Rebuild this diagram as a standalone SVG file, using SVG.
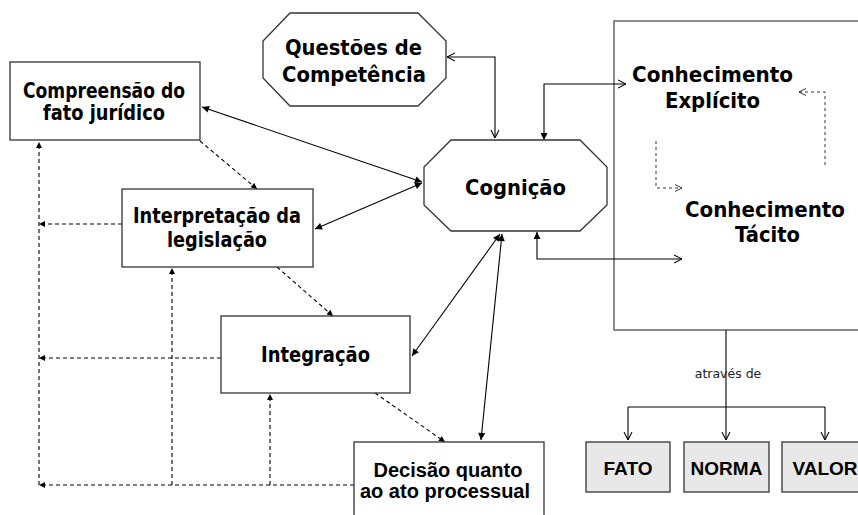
<svg xmlns="http://www.w3.org/2000/svg" width="858" height="515" viewBox="0 0 858 515">
<defs>
<style>
.box{fill:#fff;stroke:#333;stroke-width:1.3}
.gbox{fill:#e8e8e8;stroke:#333;stroke-width:1.3}
.big{fill:#fff;stroke:#666;stroke-width:1.5}
.t{font-family:"DejaVu Sans",Verdana,sans-serif;font-weight:bold;fill:#000;text-anchor:middle}
.a{font-family:"Liberation Sans",Arial,sans-serif;font-weight:bold;fill:#000;text-anchor:middle}
.s{fill:none;stroke:#000;stroke-width:1.1}
.d{fill:none;stroke:#000;stroke-width:1.1;stroke-dasharray:4,3}
.dt{fill:none;stroke:#222;stroke-width:0.9;stroke-dasharray:3,3}
.f{marker-start:url(#fa);marker-end:url(#fa)}
</style>
<marker id="fa" viewBox="0 0 10 10" refX="10" refY="5" markerUnits="userSpaceOnUse" markerWidth="8" markerHeight="7" orient="auto-start-reverse"><path d="M0,0 L10,5 L0,10 z" fill="#000"/></marker>
<marker id="fd" viewBox="0 0 10 10" refX="10" refY="5" markerUnits="userSpaceOnUse" markerWidth="7" markerHeight="6" orient="auto-start-reverse"><path d="M0,0 L10,5 L0,10 z" fill="#000"/></marker>
<marker id="oa" viewBox="0 0 10 10" refX="10" refY="5" markerUnits="userSpaceOnUse" markerWidth="8" markerHeight="10" orient="auto-start-reverse"><path d="M0,0 L10,5 L0,10" fill="none" stroke="#000" stroke-width="1.3"/></marker>
<marker id="os" viewBox="0 0 10 10" refX="10" refY="5" markerUnits="userSpaceOnUse" markerWidth="7" markerHeight="8" orient="auto-start-reverse"><path d="M0,0 L10,5 L0,10" fill="none" stroke="#222" stroke-width="1.3"/></marker>
</defs>
<rect width="858" height="515" fill="#fff"/>

<g id="conhecimento-box">
<rect class="big" x="614" y="21" width="260" height="309"/>
</g>

<g id="connectors">
<path class="s f" d="M202,107 L422,182"/>
<path class="s f" d="M315,229 L422,183"/>
<path class="s f" d="M412,356 L500,234"/>
<path class="s f" d="M481,440 L502,234"/>
<path class="s" d="M447,57 L495,57 L495,138" marker-start="url(#oa)" marker-end="url(#oa)"/>
<path class="s" d="M544,140 L544,84 L626,84" marker-start="url(#fa)" marker-end="url(#oa)"/>
<path class="s" d="M537,232 L537,259 L682,259" marker-start="url(#fa)" marker-end="url(#oa)"/>
<path class="s" d="M726,330 L726,407 M628,407 L825,407"/>
<path class="s" d="M628,407 L628,440" marker-end="url(#oa)"/>
<path class="s" d="M726,407 L726,440" marker-end="url(#oa)"/>
<path class="s" d="M825,407 L825,440" marker-end="url(#oa)"/>
<path class="d" d="M200,141 L257,189" marker-end="url(#fd)"/>
<path class="d" d="M277,267 L333,316" marker-end="url(#fd)"/>
<path class="d" d="M375,393 L445,442" marker-end="url(#fd)"/>
<path class="d" d="M354,485 L39,485" marker-end="url(#fd)"/>
<path class="d" d="M39,485 L39,142" marker-end="url(#fd)"/>
<path class="d" d="M122,224 L39,224" marker-end="url(#fd)"/>
<path class="d" d="M221,358 L39,358" marker-end="url(#fd)"/>
<path class="d" d="M172,485 L172,268" marker-end="url(#fd)"/>
<path class="d" d="M270,485 L270,394" marker-end="url(#fd)"/>
<path class="dt" d="M825,165 L825,92 L799,92" marker-end="url(#os)"/>
<path class="dt" d="M656,141 L656,188 L682,188" marker-end="url(#os)"/>
</g>

<g id="compreensao">
<rect class="box" x="10" y="62" width="190" height="78"/>
<text class="t" x="104" y="98" font-size="20.5" textLength="162" lengthAdjust="spacingAndGlyphs">Compreensão do</text>
<text class="t" x="104" y="120" font-size="20.5" textLength="122" lengthAdjust="spacingAndGlyphs">fato jurídico</text>
</g>

<g id="questoes">
<polygon class="box" points="290,13 418,13 446,41 446,78 418,106 290,106 263,78 263,41"/>
<text class="t" x="353.5" y="55" font-size="21.5" textLength="137" lengthAdjust="spacingAndGlyphs">Questões de</text>
<text class="t" x="354" y="82" font-size="21.5" textLength="144" lengthAdjust="spacingAndGlyphs">Competência</text>
</g>

<g id="cognicao">
<polygon class="box" points="451,140 580,140 607,167 607,205 580,231 451,231 424,205 424,167"/>
<text class="t" x="515.5" y="195" font-size="22" textLength="101" lengthAdjust="spacingAndGlyphs">Cognição</text>
</g>

<g id="interpretacao">
<rect class="box" x="122" y="189" width="191" height="78"/>
<text class="t" x="217" y="223" font-size="20.5" textLength="168" lengthAdjust="spacingAndGlyphs">Interpretação da</text>
<text class="t" x="217" y="247" font-size="20.5" textLength="100" lengthAdjust="spacingAndGlyphs">legislação</text>
</g>

<g id="integracao">
<rect class="box" x="221" y="316" width="189" height="77"/>
<text class="t" x="315.5" y="362" font-size="20.5" textLength="109" lengthAdjust="spacingAndGlyphs">Integração</text>
</g>

<g id="decisao">
<rect class="box" x="354" y="442" width="190" height="90"/>
<text class="a" x="448" y="477" font-size="20">Decisão quanto</text>
<text class="a" x="445" y="498" font-size="20">ao ato processual</text>
</g>

<g id="explicito">
<text class="t" x="712.5" y="82" font-size="20.5" textLength="161" lengthAdjust="spacingAndGlyphs">Conhecimento</text>
<text class="t" x="712.5" y="108" font-size="20.5" textLength="95" lengthAdjust="spacingAndGlyphs">Explícito</text>
</g>

<g id="tacito">
<text class="t" x="765" y="217" font-size="20.5" textLength="160" lengthAdjust="spacingAndGlyphs">Conhecimento</text>
<text class="t" x="767.5" y="242" font-size="20.5" textLength="65" lengthAdjust="spacingAndGlyphs">Tácito</text>
</g>

<g id="atraves">
<text x="728" y="378" font-family="'DejaVu Sans',Verdana,sans-serif" font-size="12.5" fill="#222" text-anchor="middle">através de</text>
</g>

<g id="fato">
<rect class="gbox" x="586" y="442" width="84" height="50"/>
<text class="a" x="628" y="475" font-size="19">FATO</text>
</g>
<g id="norma">
<rect class="gbox" x="684" y="442" width="85" height="50"/>
<text class="a" x="726.5" y="475" font-size="19">NORMA</text>
</g>
<g id="valor">
<rect class="gbox" x="782" y="442" width="90" height="50"/>
<text class="a" x="825" y="475" font-size="19">VALOR</text>
</g>
</svg>
